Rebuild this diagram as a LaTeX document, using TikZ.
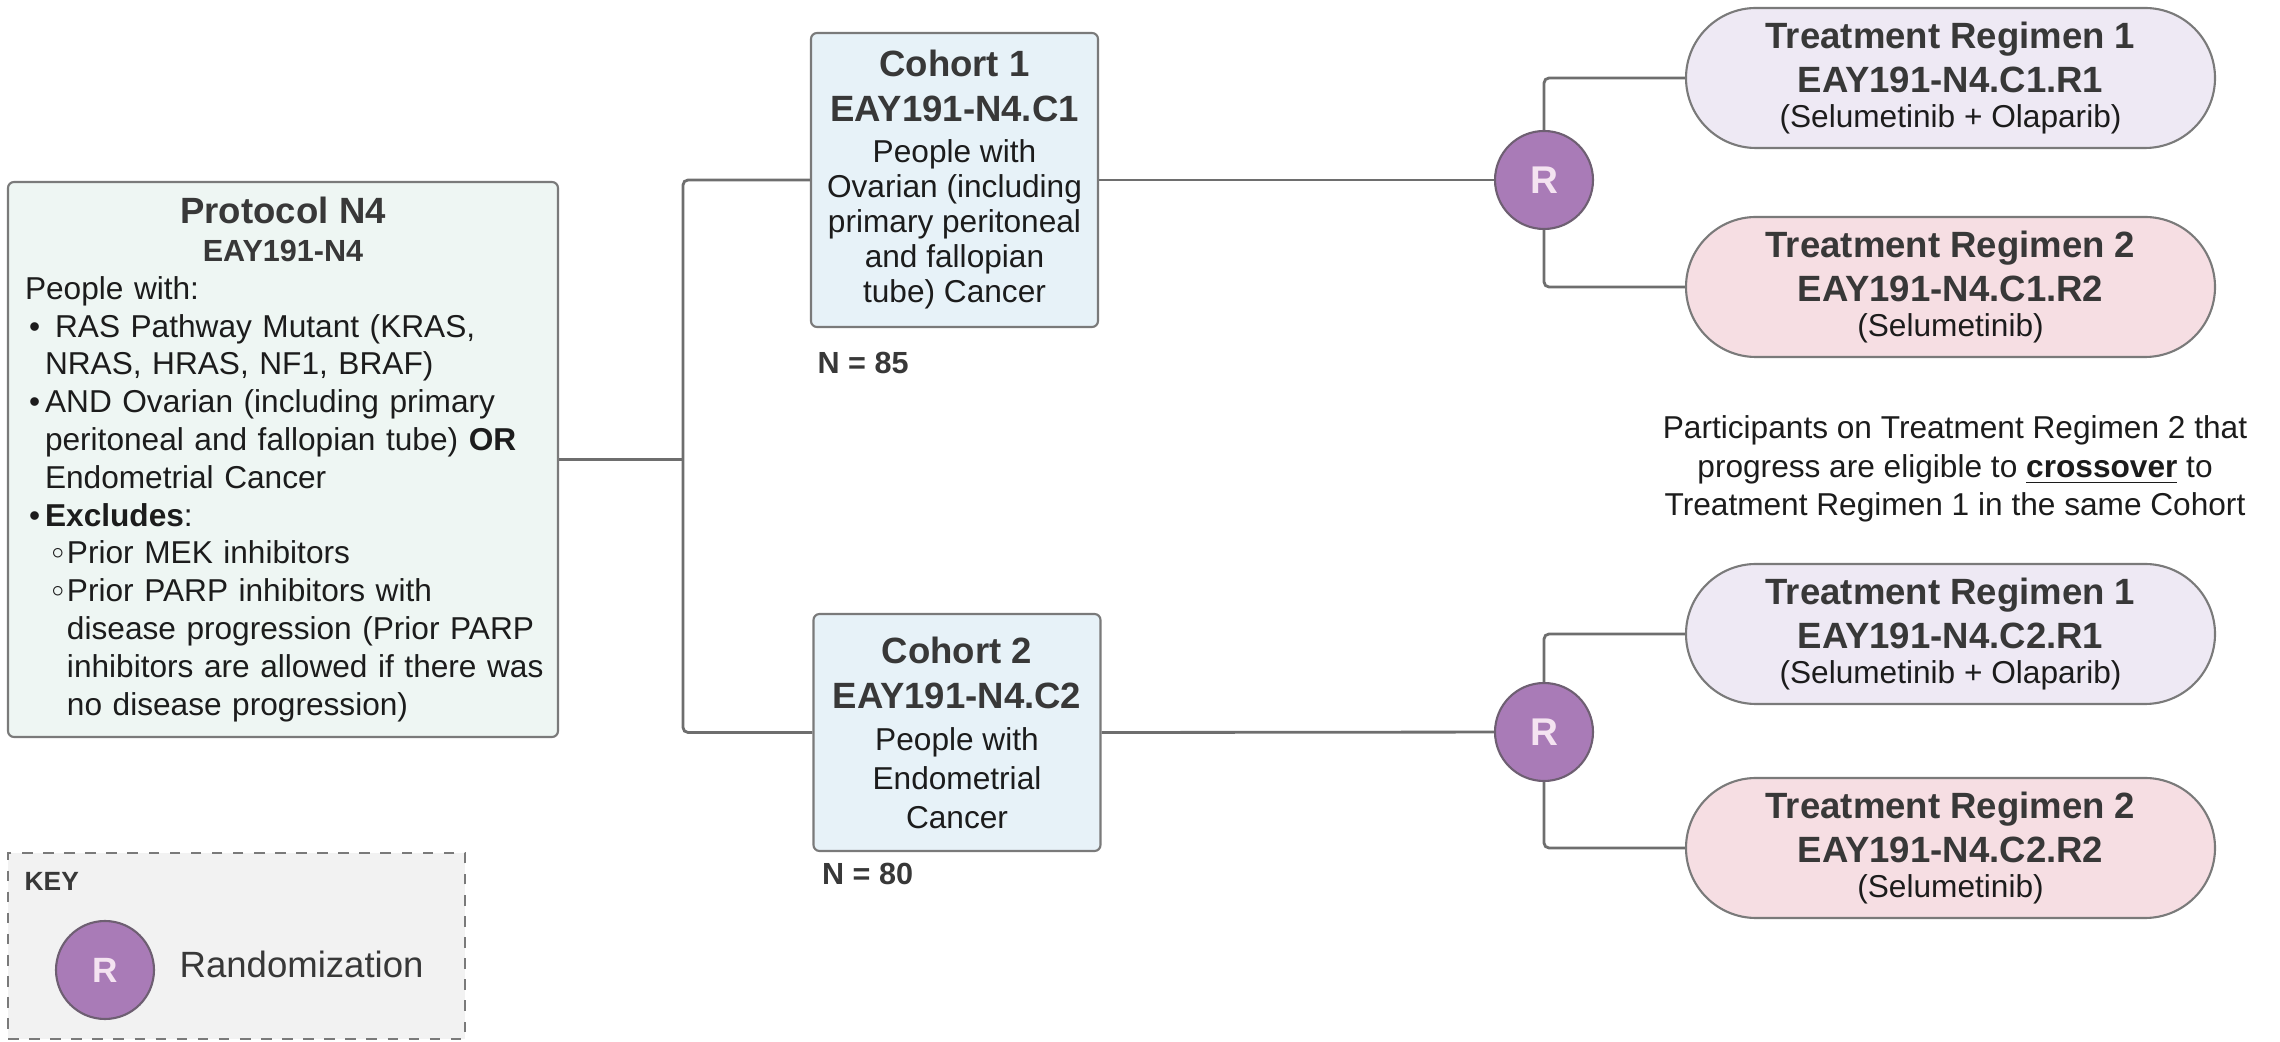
\documentclass[tikz,border=0pt]{standalone}
\usepackage{fontspec}
\setmainfont{Liberation Sans}
\usetikzlibrary{calc,positioning}

\definecolor{protofill}{HTML}{EEF6F3}
\definecolor{cohortfill}{HTML}{E7F2F8}
\definecolor{regonefill}{HTML}{EEE9F4}
\definecolor{regtwofill}{HTML}{F6DEE3}
\definecolor{randfill}{HTML}{A97BB7}
\definecolor{randline}{HTML}{6E5F72}
\definecolor{randtext}{HTML}{F4E3F1}
\definecolor{linkgray}{HTML}{6E6E6E}
\definecolor{boxgray}{HTML}{7A7A7A}
\definecolor{keyfill}{HTML}{F2F2F2}
\definecolor{titlegray}{HTML}{383838}
\definecolor{bodyblack}{HTML}{1C1C1C}

\newcommand{\protitle}{\fontsize{10.4}{12}\selectfont\bfseries\color{titlegray}}
\newcommand{\procode}{\fontsize{8.7}{10}\selectfont\bfseries\color{titlegray}}
\newcommand{\pbul}{\hspace*{0.04cm}\textbullet\hspace{0.05cm}}
\newcommand{\psub}{\hspace*{0.26cm}\makebox[0.16cm][l]{\raisebox{0.3ex}{$\scriptstyle\circ$}}}

\begin{document}
\begin{tikzpicture}[
	link/.style={draw=linkgray, line width=0.8pt},
	box/.style={draw=boxgray, line width=0.6pt, rounded corners=0.06cm, text=bodyblack},
	protobox/.style={box, fill=protofill, text width=5.16cm, align=left,
		minimum width=5.5cm, minimum height=5.55cm, font=\fontsize{9}{10.75}\selectfont},
	cohortbox/.style={box, fill=cohortfill, align=center, inner xsep=0.03cm,
		minimum width=2.87cm, font=\fontsize{9}{9.96}\selectfont},
	regimen/.style={box, rounded corners=0.7cm, align=center, minimum width=5.29cm,
		minimum height=1.4cm, font=\fontsize{9}{9.96}\selectfont},
	rand/.style={circle, draw=randline, line width=0.6pt, fill=randfill, text=randtext,
		minimum size=0.98cm, inner sep=0pt, font=\fontsize{11}{12}\selectfont\bfseries},
	count/.style={anchor=base west, inner sep=0pt, text=titlegray,
		font=\fontsize{8.7}{10}\selectfont\bfseries}
	]
	\useasboundingbox (0,0) rectangle (22.8,10.42);
	
	% protocol
	\node[protobox] (proto) at (2.83,5.825) {%
		\makebox[5.16cm]{\protitle Protocol N4}\\
		\makebox[5.16cm]{\procode EAY191-N4}\\
		People with:\\
		\pbul\hspace{0.1cm}\mbox{RAS Pathway Mutant (KRAS,}\\
		\hspace*{0.2cm}\mbox{NRAS, HRAS, NF1, BRAF)}\\
		\pbul\mbox{AND Ovarian (including primary}\\
		\hspace*{0.2cm}\mbox{peritoneal and fallopian tube) \textbf{OR}}\\
		\hspace*{0.2cm}Endometrial Cancer\\
		\pbul\textbf{Excludes}:\\
		\psub\mbox{Prior MEK inhibitors}\\
		\psub\mbox{Prior PARP inhibitors with}\\
		\hspace*{0.42cm}\mbox{disease progression (Prior PARP}\\
		\hspace*{0.42cm}\mbox{inhibitors are allowed if there was}\\
		\hspace*{0.42cm}\mbox{no disease progression)}};
	
	% cohorts
	\node[cohortbox, minimum height=2.94cm] (c1) at (9.545,8.62) {%
		{\protitle Cohort 1}\\[2.85pt]{\protitle EAY191-N4.C1}\\[1.7pt]People with\\
		Ovarian (including\\primary peritoneal\\and fallopian\\tube) Cancer};
	\node[cohortbox, minimum height=2.37cm, font=\fontsize{9}{11.1}\selectfont] (c2) at (9.57,3.095) {%
		{\protitle Cohort 2}\\[1.7pt]{\protitle EAY191-N4.C2}\\[0.85pt]People with\\
		Endometrial\\Cancer};
	\node[count] (n85) at ($(c1.south west)+(0.07,-0.45)$) {N = 85};
	\node[count] (n80) at ($(c2.south west)+(0.09,-0.32)$) {N = 80};
	
	% randomization
	\node[rand] (r1) at (15.44,8.62) {R};
	\node[rand] (r2) at (15.44,3.10) {R};
	
	% regimens
	\node[regimen, fill=regonefill] (t11) at (19.505,9.64) {%
		{\protitle Treatment Regimen 1}\\[2.5pt]{\protitle EAY191-N4.C1.R1}\\(Selumetinib + Olaparib)};
	\node[regimen, fill=regtwofill] (t12) at (19.505,7.55) {%
		{\protitle Treatment Regimen 2}\\[2.5pt]{\protitle EAY191-N4.C1.R2}\\(Selumetinib)};
	\node[regimen, fill=regonefill] (t21) at (19.505,4.08) {%
		{\protitle Treatment Regimen 1}\\[2.5pt]{\protitle EAY191-N4.C2.R1}\\(Selumetinib + Olaparib)};
	\node[regimen, fill=regtwofill] (t22) at (19.505,1.94) {%
		{\protitle Treatment Regimen 2}\\[2.5pt]{\protitle EAY191-N4.C2.R2}\\(Selumetinib)};
	
	\node[align=center, text=bodyblack, font=\fontsize{9}{10.95}\selectfont] (cross) at (19.55,5.73) {%
		Participants on Treatment Regimen 2 that\\
		progress are eligible to \underline{\textbf{crossover}} to\\
		Treatment Regimen 1 in the same Cohort};
	
	% key
	\node[draw=boxgray, dashed, line width=0.6pt, fill=keyfill, minimum width=4.57cm,
		minimum height=1.86cm, inner sep=0pt] (key) at (2.365,0.96) {};
	\node[anchor=base west, inner sep=0pt, text=titlegray, font=\fontsize{7.5}{9}\selectfont\bfseries]
		(keytitle) at (0.24,1.51) {KEY};
	\node[rand, font=\fontsize{10}{12}\selectfont\bfseries] (keyr) at (1.05,0.72) {R};
	\node[anchor=base west, inner sep=0pt, text=titlegray, font=\fontsize{10.4}{12}\selectfont]
		(keytext) at (1.79,0.64) {Randomization};
	
	% connectors
	\coordinate (split) at (6.83,5.825);
	\draw[link] (proto.east) -- (split);
	\draw[link, rounded corners=0.05cm] (c1.west) -| (split) |- (c2.west);
	\draw[link] (c1.east) -- (r1);
	\draw[link] (c2.east) -- (r2);
	\draw[link, rounded corners=0.05cm] (r1.north) |- (t11.west);
	\draw[link, rounded corners=0.05cm] (r1.south) |- (t12.west);
	\draw[link, rounded corners=0.05cm] (r2.north) |- (t21.west);
	\draw[link, rounded corners=0.05cm] (r2.south) |- (t22.west);
\end{tikzpicture}
\end{document}
